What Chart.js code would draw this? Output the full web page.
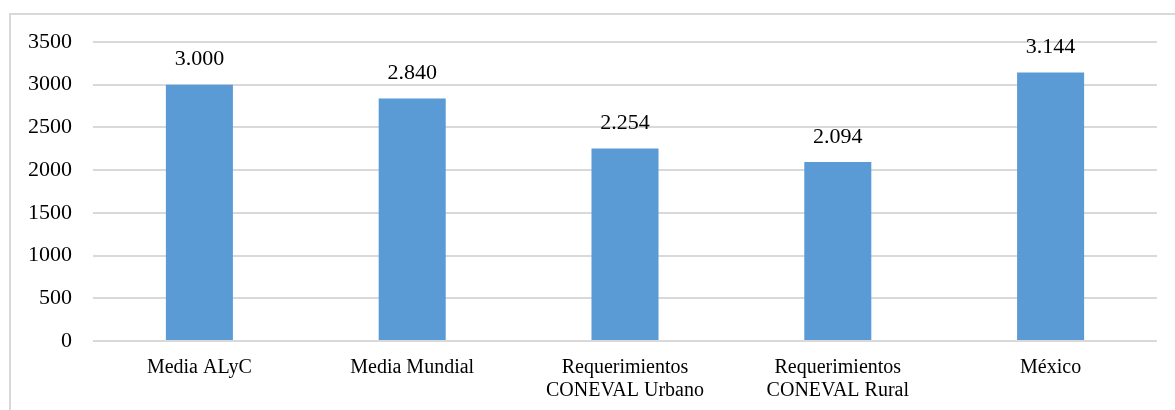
<!DOCTYPE html>
<html>
<head>
<meta charset="utf-8">
<script src="https://cdn.jsdelivr.net/npm/chart.js@4/dist/chart.umd.min.js"></script>
<style>
  html, body { margin: 0; padding: 0; background: #ffffff; }
  #wrap { width: 1175px; height: 410px; position: relative; }
</style>
</head>
<body>
<div id="wrap"><canvas id="c" width="1175" height="410"></canvas></div>
<script>
// Categories and values
const categories = [
  'Media ALyC',
  'Media Mundial',
  ['Requerimientos', 'CONEVAL Urbano'],
  ['Requerimientos', 'CONEVAL Rural'],
  'México'
];
const values = [3000, 2840, 2254, 2094, 3144];
const yTicks = [0, 500, 1000, 1500, 2000, 2500, 3000, 3500];

const FONT = '"Liberation Serif", "Times New Roman", serif';
const BAR_COLOR = '#5B9BD5';
const GRID_COLOR = '#d9d9d9';

function fmtThousands(v) {
  return String(v).replace(/\B(?=(\d{3})+(?!\d))/g, '.');
}

// Outer frame around the chart
const framePlugin = {
  id: 'frame',
  beforeDraw(chart) {
    const ctx = chart.ctx;
    ctx.save();
    ctx.strokeStyle = GRID_COLOR;
    ctx.lineWidth = 2;
    ctx.strokeRect(10, 14, chart.width + 10, chart.height + 10);
    ctx.restore();
  }
};

// Value labels above each bar
const valueLabels = {
  id: 'valueLabels',
  afterDatasetsDraw(chart) {
    const ctx = chart.ctx;
    const meta = chart.getDatasetMeta(0);
    ctx.save();
    ctx.font = '22px ' + FONT;
    ctx.fillStyle = '#000000';
    ctx.textAlign = 'center';
    ctx.textBaseline = 'middle';
    meta.data.forEach((bar, i) => {
      ctx.fillText(fmtThousands(values[i]), bar.x, bar.y - 25);
    });
    ctx.restore();
  }
};

new Chart(document.getElementById('c'), {
  type: 'bar',
  data: {
    labels: categories,
    datasets: [{
      data: values,
      backgroundColor: BAR_COLOR,
      borderWidth: 0,
      barPercentage: 0.315,
      categoryPercentage: 1.0
    }]
  },
  options: {
    responsive: false,
    animation: false,
    layout: { padding: { left: 0, right: 18, top: 42, bottom: 0 } },
    plugins: {
      legend: { display: false },
      tooltip: { enabled: false }
    },
    scales: {
      x: {
        grid: { display: false, drawTicks: false },
        border: { display: false },
        ticks: {
          color: '#000000',
          font: { family: FONT, size: 20, lineHeight: 1.15 },
          padding: 15,
          maxRotation: 0,
          autoSkip: false
        },
        afterFit(scale) { scale.height = 69; }
      },
      y: {
        min: 0,
        max: 3500,
        afterBuildTicks(scale) { scale.ticks = yTicks.map(v => ({ value: v })); },
        grid: { color: GRID_COLOR, lineWidth: 2, drawTicks: false },
        border: { display: false },
        ticks: {
          color: '#000000',
          font: { family: FONT, size: 22 },
          padding: 21,
          callback: v => String(v)
        },
        afterFit(scale) { scale.width = 93; }
      }
    }
  },
  plugins: [framePlugin, valueLabels]
});
</script>
</body>
</html>
